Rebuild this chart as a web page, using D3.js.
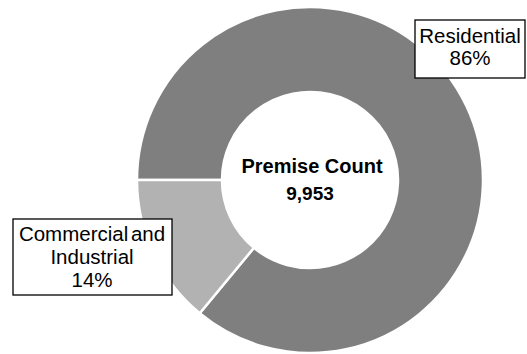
<!DOCTYPE html>
<html><head><meta charset="utf-8">
<script src="https://cdn.jsdelivr.net/npm/d3@7"></script>
<style>html,body{margin:0;padding:0;background:#fff;}svg{display:block;}</style>
</head><body>
<script>
const categories = ["Residential", "Commercial and Industrial"];
const values = [86, 14];
const colors = ["#7f7f7f", "#b2b2b2"];
const centerTitle = "Premise Count";
const centerValue = "9,953";

const W = 527, H = 354;
const svg = d3.select("body").append("svg").attr("width", W).attr("height", H);
const cx = 310, cy = 180, rOuter = 173, rInner = 88;

const pie = d3.pie().sort(null).value(d => d)
  .startAngle(-Math.PI / 2).endAngle(1.5 * Math.PI);
const arc = d3.arc().innerRadius(rInner).outerRadius(rOuter);
const g = svg.append("g").attr("transform", `translate(${cx},${cy})`);
g.selectAll("path").data(pie(values)).enter().append("path")
  .attr("d", arc)
  .attr("fill", (d, i) => colors[i])
  .attr("stroke", "#fff").attr("stroke-width", 2.5);

const font = "'Liberation Sans', Arial, sans-serif";
g.append("text").attr("x", 2).attr("y", -7).attr("text-anchor", "middle")
  .attr("font-family", font).attr("font-weight", "bold").attr("font-size", 20)
  .text(centerTitle);
g.append("text").attr("x", 0).attr("y", 20).attr("text-anchor", "middle")
  .attr("font-family", font).attr("font-weight", "bold").attr("font-size", 19)
  .text(centerValue);

const labels = [
  {lines: [categories[0], values[0] + "%"], box: [415, 20, 110, 58], cx: 470, y0: 43, dy: 22},
  {lines: ["Commercial and", "Industrial", values[1] + "%"], box: [13, 219, 159, 76], cx: 92, y0: 241, dy: 23}
];
labels.forEach(l => {
  svg.append("rect").attr("x", l.box[0]).attr("y", l.box[1])
    .attr("width", l.box[2]).attr("height", l.box[3])
    .attr("fill", "#fff").attr("stroke", "#000").attr("stroke-width", 1.3);
  l.lines.forEach((t, i) => {
    svg.append("text").attr("x", l.cx).attr("y", l.y0 + i * l.dy)
      .attr("text-anchor", "middle").attr("font-family", font).attr("font-size", 20.5)
      .attr("word-spacing", -3).attr("fill", "#000").text(t);
  });
});
</script>
</body></html>
